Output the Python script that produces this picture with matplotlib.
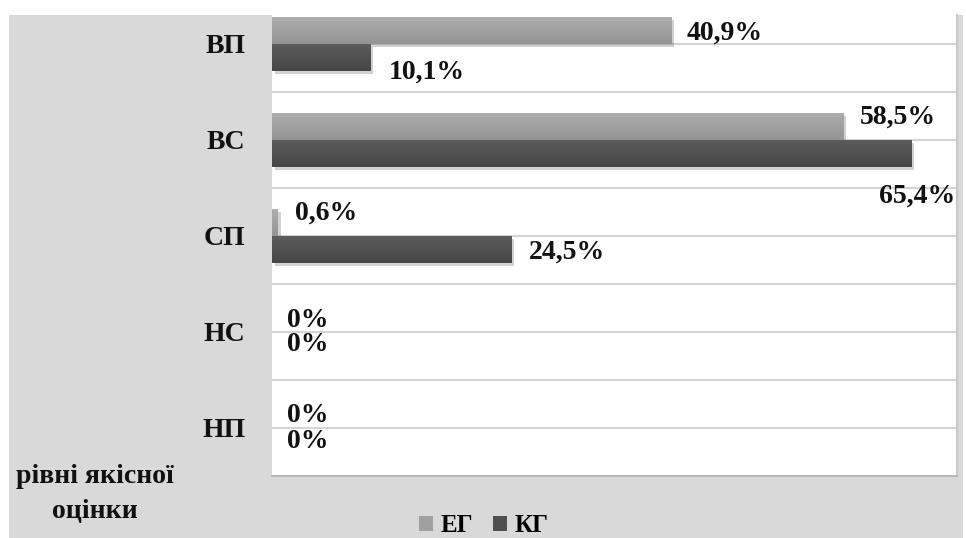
import numpy as np
import matplotlib
matplotlib.use("Agg")
import matplotlib.pyplot as plt
import matplotlib.patches as mpatches
import matplotlib.patheffects as pe
from matplotlib.colors import LinearSegmentedColormap

# ---- data ----
categories = ["ВП", "ВС", "СП", "НС", "НП"]          # top to bottom
eg_values = [40.9, 58.5, 0.6, 0.0, 0.0]                # ЕГ
kg_values = [10.1, 65.4, 24.5, 0.0, 0.0]               # КГ
eg_labels = ["40,9%", "58,5%", "0,6%", "0%", "0%"]
kg_labels = ["10,1%", "65,4%", "24,5%", "0%", "0%"]
series_names = ["ЕГ", "КГ"]
axis_title = "рівні якісної\nоцінки"

# label offsets in pixels (style)
eg_off = [(15, -3), (16, 9), (17, 9), (15, -2), (15, -1)]
kg_off = [(18, -15), (-32, -43), (17, -3), (15, 1), (15, 0)]

W, H = 966, 538
fig = plt.figure(figsize=(W / 100, H / 100), dpi=100)
fig.patch.set_facecolor("white")

# grey chart-area panel
panel = mpatches.Rectangle((9 / W, 0), (963 - 9) / W, (538 - 15) / H,
                           transform=fig.transFigure, facecolor="#d9d9d9",
                           edgecolor="none", zorder=-10)
fig.patches.append(panel)

ax = fig.add_axes([272 / W, (538 - 476) / H, (957 - 272) / W, (476 - 15) / H])
ax.set_zorder(1)
ax.set_facecolor("white")

n = len(categories)
pos = np.arange(n)[::-1].astype(float)   # ВП at top
bh = 0.28

shadow = [pe.SimplePatchShadow(offset=(2, -2.5), shadow_rgbFace="#000000", alpha=0.18), pe.Normal()]
eg_bars = ax.barh(pos + bh / 2, eg_values, height=bh, color="#9c9c9c", zorder=3)
kg_bars = ax.barh(pos - bh / 2, kg_values, height=bh, color="#505050", zorder=3)

cm_eg = LinearSegmentedColormap.from_list("eg", ["#939393", "#aeaeae"])
cm_kg = LinearSegmentedColormap.from_list("kg", ["#464646", "#5c5c5c"])
grad = np.linspace(0, 1, 64).reshape(-1, 1)
for bars, cm in ((eg_bars, cm_eg), (kg_bars, cm_kg)):
    for b in bars:
        if b.get_width() <= 0:
            continue
        b.set_path_effects(shadow)
        x0, y0 = b.get_x(), b.get_y()
        x1, y1 = x0 + b.get_width(), y0 + b.get_height()
        im = ax.imshow(grad, cmap=cm, extent=(x0, x1, y0, y1), origin="lower",
                       aspect="auto", zorder=4, interpolation="bilinear")
        im.set_clip_path(b)

ax.set_xlim(0, 70.1)
ax.set_ylim(-0.5, 4.30)

# gridlines at category centres and boundaries
ax.set_yticks(pos)
ax.set_yticklabels(categories)
ax.set_yticks(np.arange(-0.5, 4.0, 1.0), minor=True)
ax.grid(True, axis="y", which="both", color="#d4d4d4", linewidth=1.5, zorder=1)
ax.set_axisbelow(True)
ax.set_xticks([])
ax.tick_params(axis="y", which="both", length=0, pad=19)
for lab in ax.get_yticklabels():
    lab.set_fontfamily("Liberation Serif")
    lab.set_fontweight("bold")
    lab.set_fontsize(20)
    lab.set_color("#111111")

for s in ["top", "left"]:
    ax.spines[s].set_visible(False)
ax.spines["right"].set_color("#c8c8c8")
ax.spines["right"].set_linewidth(1.5)
ax.spines["bottom"].set_color("#b8b8b8")
ax.spines["bottom"].set_linewidth(1.5)

tkw = dict(fontfamily="Liberation Serif", fontweight="bold", fontsize=20,
           color="#111111", ha="left", va="center", textcoords="offset pixels",
           zorder=6, annotation_clip=False)
for i in range(n):
    ax.annotate(eg_labels[i], xy=(eg_values[i], pos[i] + bh / 2), xytext=eg_off[i], **tkw)
    ax.annotate(kg_labels[i], xy=(kg_values[i], pos[i] - bh / 2), xytext=kg_off[i], **tkw)

fig.text(95 / W, (538 - 494) / H, axis_title, ha="center", va="center",
         multialignment="center", fontfamily="Liberation Serif", fontweight="bold",
         fontsize=20, color="#111111", linespacing=1.5)

handles = [mpatches.Patch(facecolor="#a0a0a0", edgecolor="none"),
           mpatches.Patch(facecolor="#505050", edgecolor="none")]
fig.legend(handles, series_names, loc="center", bbox_to_anchor=(484 / W, (538 - 526) / H),
           ncol=2, frameon=False, handlelength=0.55, handleheight=0.55,
           handletextpad=0.3, columnspacing=0.8, borderpad=0.1,
           prop=dict(family="Liberation Serif", weight="bold", size=18))

fig.savefig("out.png", dpi=100, facecolor="white")
